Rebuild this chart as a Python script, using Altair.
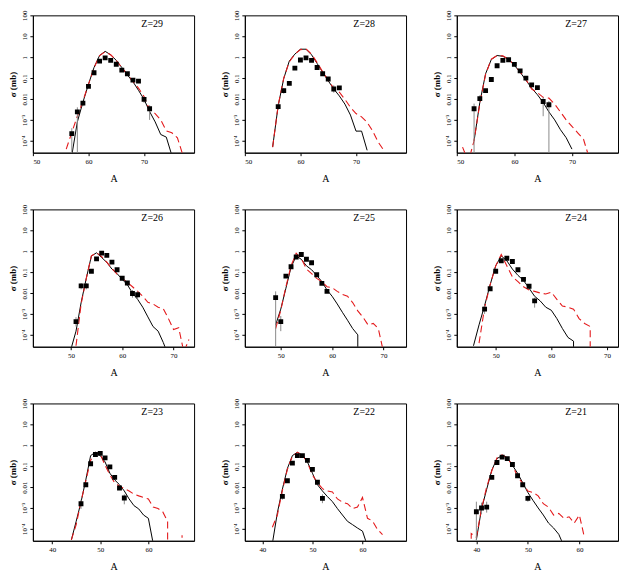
import altair as alt
import pandas as pd

FONT = "Liberation Serif"
RED = "#e41a1c"
GREY = "#8a8a8a"

Z_LABELS = ["Z=29", "Z=28", "Z=27", "Z=26", "Z=25", "Z=24", "Z=23", "Z=22", "Z=21"]
X_DOMAINS = [[50, 79], [50, 79], [50, 78], [42.6, 74], [43, 74.4], [43, 72],
             [36, 69.5], [36.5, 68.7], [36.2, 67.5]]
X_TICKS = [[50, 60, 70], [50, 60, 70], [50, 60, 70], [50, 60, 70], [50, 60, 70],
           [50, 60, 70], [40, 50, 60], [40, 50, 60], [40, 50, 60]]
Y_TICKS = [1e-4, 1e-3, 0.01, 0.1, 1, 10, 100]

# ---- Z=29
EXP_A_29 = [57, 58, 59, 60, 61, 62, 63, 64, 65, 66, 67, 68, 69, 70, 71]
EXP_S_29 = [2.2e-4, 2.4e-3, 6.3e-3, 0.04, 0.18, 0.65, 0.93, 0.7, 0.46, 0.24, 0.16, 0.08, 0.071, 0.0096, 0.0034]
ERR_A_29 = [57, 58, 59, 70, 71]
ERR_LO_29 = [1.5e-5, 1.5e-5, 4.5e-3, 6.5e-3, 1e-3]
ERR_HI_29 = [4e-4, 4e-3, 8e-3, 1.3e-2, 5e-3]
SOL_A_29 = [57, 58, 59, 60, 61, 62, 63, 64, 65, 66, 67, 68, 69, 70, 71, 72, 73, 74, 75]
SOL_S_29 = [2e-5, 8e-4, 7e-3, 0.05, 0.32, 1.2, 1.9, 1.3, 0.7, 0.32, 0.14, 0.067, 0.026, 0.0096, 0.0025, 8e-4, 2e-4, 1.5e-4, 2e-5]
DSH_A_29 = [56, 57, 58, 59, 60, 61, 62, 63, 64, 65, 66, 67, 68, 69, 70, 71, 72, 73, 74, 75, 76, 77]
DSH_S_29 = [4e-5, 2.5e-4, 1.5e-3, 8e-3, 0.05, 0.3, 1.2, 1.8, 1.3, 0.7, 0.32, 0.15, 0.07, 0.033, 0.013, 3e-3, 2e-3, 1e-3, 3e-4, 2.4e-4, 1.4e-4, 2e-5]

# ---- Z=28
EXP_A_28 = [56, 57, 58, 59, 60, 61, 62, 63, 64, 65, 66, 67]
EXP_S_28 = [4.3e-3, 0.025, 0.056, 0.3, 0.73, 0.93, 0.7, 0.32, 0.16, 0.09, 0.03, 0.034]
ERR_A_28 = [56, 57, 66]
ERR_LO_28 = [3e-3, 0.018, 0.02]
ERR_HI_28 = [6e-3, 0.033, 0.045]
SOL_A_28 = [55, 56, 57, 58, 59, 60, 61, 62, 63, 64, 65, 66, 67, 68, 69, 70, 71, 72]
SOL_S_28 = [5e-5, 4.8e-3, 0.095, 0.65, 1.4, 2.4, 2.4, 1.3, 0.5, 0.19, 0.074, 0.03, 0.014, 5.7e-3, 1.7e-3, 2.9e-4, 2.9e-4, 3.5e-5]
DSH_A_28 = [55, 56, 57, 58, 59, 60, 61, 62, 63, 64, 65, 66, 67, 68, 69, 70, 71, 72, 73, 74, 75]
DSH_S_28 = [5e-5, 5e-3, 0.1, 0.6, 1.4, 2.3, 2.5, 1.4, 0.55, 0.2, 0.08, 0.032, 0.021, 9.6e-3, 4e-3, 2e-3, 1.4e-3, 7.7e-4, 2.9e-4, 8.5e-5, 3.5e-5]

# ---- Z=27
EXP_A_27 = [53, 54, 55, 56, 57, 58, 59, 60, 61, 62, 63, 64, 65, 66]
EXP_S_27 = [3.4e-3, 0.0104, 0.025, 0.085, 0.39, 0.7, 0.75, 0.45, 0.22, 0.1, 0.047, 0.035, 7.6e-3, 5.3e-3]
ERR_A_27 = [53, 54, 65, 66]
ERR_LO_27 = [1.5e-5, 7e-3, 1.5e-3, 1.5e-5]
ERR_HI_27 = [6e-3, 0.015, 0.012, 8e-3]
SOL_A_27 = [53, 54, 55, 56, 57, 58, 59, 60, 61, 62, 63, 64, 65, 66, 67, 68, 69, 70]
SOL_S_27 = [1e-4, 6.8e-3, 0.16, 0.78, 1.2, 1.1, 0.78, 0.41, 0.19, 0.08, 0.033, 0.016, 6.8e-3, 2.4e-3, 1e-3, 3.4e-4, 1.4e-4, 4e-5]
DSH_A_27 = [51, 52, 53, 54, 55, 56, 57, 58, 59, 60, 61, 62, 63, 64, 65, 66, 67, 68, 69, 70, 71, 72, 73]
DSH_S_27 = [5e-5, 1e-5, 1e-4, 6e-3, 0.15, 0.8, 1.2, 1.15, 0.8, 0.42, 0.2, 0.085, 0.03, 0.02, 0.012, 0.011, 5.7e-3, 2.4e-3, 1e-3, 4.9e-4, 2.4e-4, 1.2e-4, 1.5e-5]

# ---- Z=26
EXP_A_26 = [51, 52, 53, 54, 55, 56, 57, 58, 59, 60, 61, 62, 63]
EXP_S_26 = [4.3e-4, 0.022, 0.022, 0.11, 0.43, 0.81, 0.63, 0.3, 0.13, 0.051, 0.03, 0.0095, 0.0083]
ERR_A_26 = [51, 52, 53, 62, 63]
ERR_LO_26 = [2.5e-4, 0.015, 0.015, 6e-3, 5e-3]
ERR_HI_26 = [7e-4, 0.03, 0.03, 0.014, 0.012]
SOL_A_26 = [50, 51, 52, 53, 54, 55, 56, 57, 58, 59, 60, 61, 62, 63, 64, 65, 66, 67, 68, 69]
SOL_S_26 = [2e-5, 1.5e-4, 3.5e-3, 0.05, 0.59, 0.84, 0.5, 0.29, 0.14, 0.085, 0.045, 0.025, 0.01, 5e-3, 2.1e-3, 7.2e-4, 2.5e-4, 1.5e-4, 4.3e-5, 1e-5]
DSH_A_26 = [51, 52, 53, 54, 55, 56, 57, 58, 59, 60, 61, 62, 63, 64, 65, 66, 67, 68, 69, 70, 71, 72, 73]
DSH_S_26 = [3e-5, 3e-3, 0.05, 0.6, 0.85, 0.55, 0.3, 0.15, 0.08, 0.05, 0.032, 0.02, 0.012, 7e-3, 3.6e-3, 3e-3, 2.1e-3, 1.8e-3, 6e-4, 1.8e-4, 2.2e-4, 1.5e-5, 6e-5]

# ---- Z=25
EXP_A_25 = [49, 50, 51, 52, 53, 54, 55, 56, 57, 58, 59]
EXP_S_25 = [6e-3, 4.3e-4, 0.064, 0.18, 0.53, 0.7, 0.41, 0.28, 0.075, 0.029, 0.012]
ERR_A_25 = [49, 50]
ERR_LO_25 = [1.5e-5, 1.5e-4]
ERR_HI_25 = [0.012, 8e-4]
SOL_A_25 = [49, 50, 51, 52, 53, 54, 55, 56, 57, 58, 59, 60, 61, 62, 63, 64, 65, 65]
SOL_S_25 = [3e-4, 1.7e-3, 0.017, 0.17, 0.59, 0.41, 0.2, 0.13, 0.07, 0.035, 0.014, 7e-3, 3e-3, 1.2e-3, 5e-4, 2e-4, 1e-4, 1e-5]
DSH_A_25 = [49, 50, 51, 52, 53, 54, 55, 56, 57, 58, 59, 60, 61, 62, 63, 64, 65, 66, 67, 68, 69, 70]
DSH_S_25 = [2e-4, 1.5e-3, 0.02, 0.2, 0.8, 0.45, 0.14, 0.085, 0.05, 0.035, 0.02, 0.018, 0.012, 8.5e-3, 7e-3, 3.5e-3, 1.4e-3, 7e-4, 3e-4, 3.5e-4, 2e-4, 1.5e-5]

# ---- Z=24
EXP_A_24 = [48, 49, 50, 51, 52, 53, 54, 55, 56, 57]
EXP_S_24 = [1.7e-3, 0.016, 0.11, 0.35, 0.46, 0.32, 0.13, 0.045, 0.021, 4.2e-3]
ERR_A_24 = [48, 57]
ERR_LO_24 = [1e-3, 2e-3]
ERR_HI_24 = [2.5e-3, 6e-3]
SOL_A_24 = [46, 47, 48, 49, 50, 51, 52, 53, 54, 55, 56, 57, 58, 59, 60, 61, 62, 63, 64, 64]
SOL_S_24 = [3e-5, 3e-4, 2.5e-3, 0.025, 0.2, 0.6, 0.35, 0.14, 0.07, 0.04, 0.017, 7e-3, 4.2e-3, 2.1e-3, 1.5e-3, 6e-4, 2e-4, 7.5e-5, 5e-5, 1e-5]
DSH_A_24 = [47, 48, 49, 50, 51, 52, 53, 54, 55, 56, 57, 58, 59, 60, 61, 62, 63, 64, 65, 66, 67, 67]
DSH_S_24 = [4e-5, 2e-3, 0.025, 0.2, 0.7, 0.2, 0.06, 0.035, 0.02, 0.014, 0.012, 0.01, 9e-3, 0.011, 5e-3, 2.4e-3, 2.1e-3, 1.7e-3, 6e-4, 3.5e-4, 2.5e-4, 1e-5]

# ---- Z=23
EXP_A_23 = [46, 47, 48, 49, 50, 51, 52, 53, 54, 55]
EXP_S_23 = [1.6e-3, 0.013, 0.13, 0.36, 0.41, 0.25, 0.093, 0.029, 0.009, 3e-3]
ERR_A_23 = [46, 55]
ERR_LO_23 = [9e-4, 1.5e-3]
ERR_HI_23 = [2.5e-3, 4.5e-3]
SOL_A_23 = [44, 45, 46, 47, 48, 49, 50, 51, 52, 53, 54, 55, 56, 57, 58, 59, 60, 61]
SOL_S_23 = [3e-5, 2.3e-4, 1.9e-3, 0.022, 0.32, 0.46, 0.32, 0.16, 0.046, 0.022, 0.013, 6.5e-3, 2.7e-3, 1.3e-3, 9e-4, 4.6e-4, 3.2e-4, 2e-5]
DSH_A_23 = [44, 45, 46, 47, 48, 49, 50, 51, 52, 53, 54, 55, 56, 57, 58, 59, 60, 61, 62, 63, 64, 64, 67, 67]
DSH_S_23 = [3e-5, 1.6e-4, 2e-3, 0.02, 0.19, 0.45, 0.38, 0.11, 0.038, 0.016, 0.011, 8.4e-3, 6.5e-3, 4.6e-3, 3.8e-3, 3.2e-3, 2.7e-3, 1.1e-3, 9.5e-4, 6.5e-4, 2.3e-4, 1e-5, 1e-5, 5e-5]

# ---- Z=22
EXP_A_22 = [44, 45, 46, 47, 48, 49, 50, 51, 52]
EXP_S_22 = [3.6e-3, 0.02, 0.14, 0.32, 0.32, 0.19, 0.07, 0.017, 2.9e-3]
ERR_A_22 = [44, 52]
ERR_LO_22 = [2.5e-3, 1.7e-3]
ERR_HI_22 = [5e-3, 4.5e-3]
SOL_A_22 = [42, 43, 44, 45, 46, 47, 48, 49, 50, 51, 52, 53, 54, 55, 56, 57, 58, 59, 60, 61]
SOL_S_22 = [2e-5, 6e-4, 7.9e-3, 0.078, 0.32, 0.46, 0.32, 0.16, 0.046, 0.013, 6.5e-3, 3.5e-3, 2e-3, 9.3e-4, 4.6e-4, 2.3e-4, 1.6e-4, 1.1e-4, 7.8e-5, 1.5e-5]
DSH_A_22 = [42, 43, 44, 45, 46, 47, 48, 49, 50, 51, 52, 53, 54, 55, 56, 57, 58, 59, 60, 61, 62, 63, 64]
DSH_S_22 = [1.2e-4, 4.6e-4, 7e-3, 0.07, 0.3, 0.46, 0.35, 0.15, 0.038, 0.016, 8.4e-3, 6.5e-3, 5.8e-3, 2.7e-3, 1.9e-3, 1.6e-3, 9.3e-4, 1.1e-3, 3.2e-3, 3.2e-4, 2.4e-4, 9.4e-5, 5.3e-5]

# ---- Z=21
EXP_A_21 = [40, 41, 42, 43, 44, 45, 46, 47, 48, 49, 50]
EXP_S_21 = [6.6e-4, 1e-3, 1.1e-3, 0.029, 0.15, 0.27, 0.23, 0.12, 0.035, 0.013, 2.9e-3]
ERR_A_21 = [40, 41, 42, 50]
ERR_LO_21 = [1.5e-5, 5e-4, 6e-4, 2e-3]
ERR_HI_21 = [2e-3, 1.8e-3, 2e-3, 4e-3]
SOL_A_21 = [40, 41, 42, 43, 44, 45, 46, 47, 48, 49, 50, 51, 52, 53, 54, 55, 56, 57]
SOL_S_21 = [3e-5, 9e-4, 7.8e-3, 0.065, 0.23, 0.32, 0.25, 0.11, 0.046, 0.016, 5.5e-3, 2.3e-3, 1e-3, 4.6e-4, 1.9e-4, 1.1e-4, 5.5e-5, 1.5e-5]
DSH_A_21 = [39, 39, 40, 41, 42, 43, 44, 45, 46, 47, 48, 49, 50, 51, 52, 53, 54, 55, 56, 57, 58, 59, 60, 61]
DSH_S_21 = [1e-5, 6e-5, 4e-5, 9e-4, 0.01, 0.06, 0.25, 0.35, 0.25, 0.11, 0.032, 0.015, 6.5e-3, 5.5e-3, 3.8e-3, 1.6e-3, 1.1e-3, 4.6e-4, 5.5e-4, 3.2e-4, 3.8e-4, 1.9e-4, 4.6e-4, 3.7e-5]

PANELS = [
    (EXP_A_29, EXP_S_29, ERR_A_29, ERR_LO_29, ERR_HI_29, SOL_A_29, SOL_S_29, DSH_A_29, DSH_S_29),
    (EXP_A_28, EXP_S_28, ERR_A_28, ERR_LO_28, ERR_HI_28, SOL_A_28, SOL_S_28, DSH_A_28, DSH_S_28),
    (EXP_A_27, EXP_S_27, ERR_A_27, ERR_LO_27, ERR_HI_27, SOL_A_27, SOL_S_27, DSH_A_27, DSH_S_27),
    (EXP_A_26, EXP_S_26, ERR_A_26, ERR_LO_26, ERR_HI_26, SOL_A_26, SOL_S_26, DSH_A_26, DSH_S_26),
    (EXP_A_25, EXP_S_25, ERR_A_25, ERR_LO_25, ERR_HI_25, SOL_A_25, SOL_S_25, DSH_A_25, DSH_S_25),
    (EXP_A_24, EXP_S_24, ERR_A_24, ERR_LO_24, ERR_HI_24, SOL_A_24, SOL_S_24, DSH_A_24, DSH_S_24),
    (EXP_A_23, EXP_S_23, ERR_A_23, ERR_LO_23, ERR_HI_23, SOL_A_23, SOL_S_23, DSH_A_23, DSH_S_23),
    (EXP_A_22, EXP_S_22, ERR_A_22, ERR_LO_22, ERR_HI_22, SOL_A_22, SOL_S_22, DSH_A_22, DSH_S_22),
    (EXP_A_21, EXP_S_21, ERR_A_21, ERR_LO_21, ERR_HI_21, SOL_A_21, SOL_S_21, DSH_A_21, DSH_S_21),
]

W, H = 162, 138
Y_LABEL_EXPR = ("datum.value == 100 ? '100' : datum.value == 10 ? '10' : datum.value == 1 ? '1' : "
                "datum.value == 0.1 ? '0.1' : datum.value == 0.01 ? '0.01' : "
                "datum.value == 0.001 ? '10⁻³' : datum.value == 0.0001 ? '10⁻⁴' : ''")


def panel(k):
    ea, es, ra, rlo, rhi, sa, ss, da, ds = PANELS[k]
    xsc = alt.Scale(domain=X_DOMAINS[k], nice=False, zero=False)
    ysc = alt.Scale(type="log", domain=[2.7e-5, 100], nice=False)
    xax = alt.Axis(title="A", values=X_TICKS[k], format="d", grid=False, tickSize=3,
                   labelFontSize=7, titleFontSize=10, titlePadding=9, labelPadding=2,
                   titleFontWeight="normal")
    yax = alt.Axis(title="σ (mb)", values=Y_TICKS, labelExpr=Y_LABEL_EXPR, grid=False,
                   tickSize=3, labelAngle=270, labelAlign="center", labelBaseline="bottom",
                   labelFontSize=7, labelPadding=2, titleFontSize=9, titlePadding=3,
                   titleFontWeight="bold")
    x = alt.X("A:Q", scale=xsc, axis=xax)
    y = alt.Y("s:Q", scale=ysc, axis=yax)

    sol = pd.DataFrame({"A": sa, "s": ss, "i": list(range(len(sa)))})
    dsh = pd.DataFrame({"A": da, "s": ds, "i": list(range(len(da)))})
    exp = pd.DataFrame({"A": ea, "s": es})
    err = pd.DataFrame({"A": ra, "s": rlo, "s2": rhi})

    l_sol = alt.Chart(sol).mark_line(color="black", strokeWidth=1, clip=True).encode(
        x=x, y=y, order="i:Q")
    l_dsh = alt.Chart(dsh).mark_line(color=RED, strokeWidth=1.1, strokeDash=[7, 4], clip=True).encode(
        x=x, y=y, order="i:Q")
    l_err = alt.Chart(err).mark_rule(color=GREY, strokeWidth=1, clip=True).encode(
        x=x, y=y, y2="s2:Q")
    l_exp = alt.Chart(exp).mark_square(color="black", size=24, opacity=1, clip=True).encode(x=x, y=y)
    l_txt = alt.Chart(pd.DataFrame({"t": [Z_LABELS[k]]})).mark_text(
        font=FONT, fontSize=10, color="black", align="center", baseline="middle").encode(
        text="t:N", x=alt.value(W * 0.74), y=alt.value(9))
    return alt.layer(l_sol, l_dsh, l_err, l_exp, l_txt).properties(width=W, height=H)


rows = []
for r in range(3):
    rows.append(alt.hconcat(*[panel(3 * r + c) for c in range(3)], spacing=25))

chart = alt.vconcat(*rows, spacing=19).properties(
    padding={"left": 0, "top": 0, "right": 0, "bottom": 0}
).configure_view(stroke="black", strokeWidth=1).configure_axis(
    labelFont=FONT, titleFont=FONT, labelColor="black", titleColor="black",
    domainColor="black", tickColor="black", domainWidth=1
)

chart.save("out.html", embed_options={"renderer": "svg", "actions": False})
